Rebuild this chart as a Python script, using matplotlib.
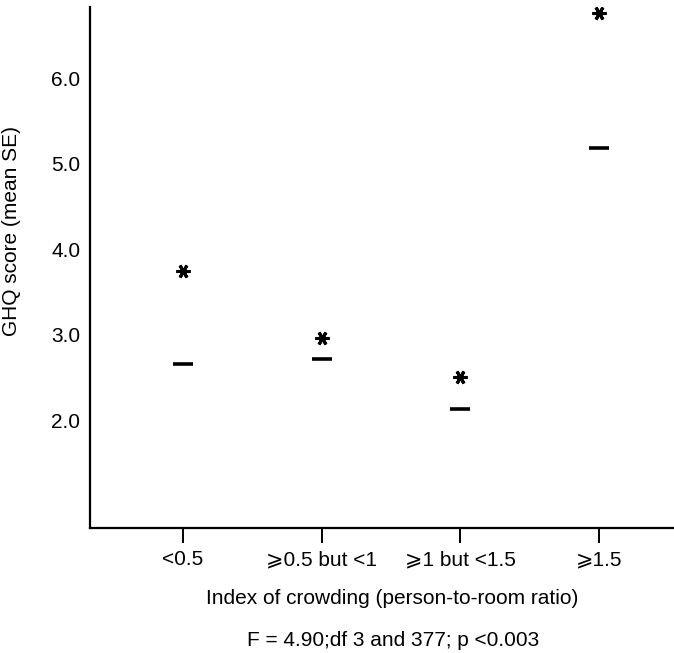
import matplotlib
matplotlib.use("Agg")
import matplotlib.pyplot as plt

plt.rcParams['font.family'] = ['Liberation Sans', 'DejaVu Sans']

categories = ["<0.5", "⩾0.5 but <1", "⩾1 but <1.5", "⩾1.5"]
mean_scores = [2.66, 2.71, 2.13, 5.18]
upper_se = [3.74, 2.96, 2.50, 6.76]
y_ticks = [2.0, 3.0, 4.0, 5.0, 6.0]
y_tick_labels = ["2.0", "3.0", "4.0", "5.0", "6.0"]

fig = plt.figure(figsize=(6.74, 6.53), dpi=100)
ax = fig.add_axes([90/674, 125/653, 584/674, 521/653])

x = list(range(len(categories)))
ax.plot(x, mean_scores, linestyle='none', marker='_', markersize=15,
        markeredgewidth=2.6, color='black')
ax.plot(x, upper_se, linestyle='none', marker=(6, 2, 90), markersize=10,
        markeredgewidth=2.2, color='black')

ax.set_xlim(-0.67, 3.54)
ax.set_ylim(0.74, 6.83)

ax.spines['top'].set_visible(False)
ax.spines['right'].set_visible(False)
ax.spines['left'].set_linewidth(1.6)
ax.spines['bottom'].set_linewidth(1.6)

ax.set_xticks(x)
ax.set_xticklabels(categories, fontsize=15)
ax.tick_params(axis='x', direction='out', length=11, width=1.4, pad=5)
ax.set_yticks(y_ticks)
ax.set_yticklabels(y_tick_labels, fontsize=15)
ax.tick_params(axis='y', length=0, pad=7)

ax.set_ylabel("GHQ score (mean SE)", fontsize=15)
ax.yaxis.set_label_coords(-0.118, 0.57)

fig.text(392/674, 1 - 598/653, "Index of crowding (person-to-room ratio)",
         ha='center', va='center', fontsize=15)
fig.text(393/674, 1 - 640/653, "F = 4.90;df 3 and 377; p <0.003",
         ha='center', va='center', fontsize=15)

fig.savefig("out.png", dpi=100)
